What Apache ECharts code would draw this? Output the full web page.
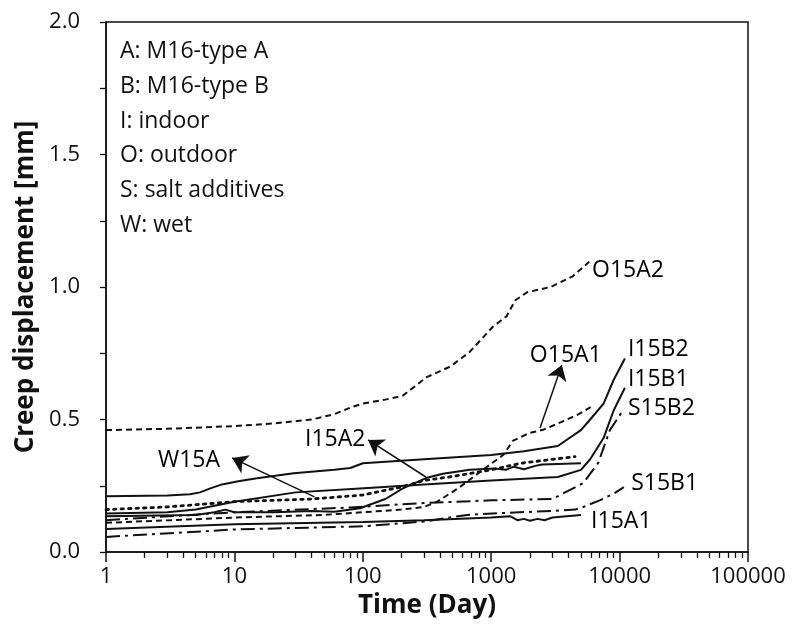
<!DOCTYPE html>
<html><head><meta charset="utf-8">
<script src="https://cdn.jsdelivr.net/npm/echarts@6/dist/echarts.min.js"></script>
<style>html,body{margin:0;padding:0;background:#fff}#c{width:796px;height:628px}</style>
</head><body><div id="c"></div>
<script>
// ---- data (time in days, creep displacement in mm) ----
const O15A2_t = [1, 3, 10, 20, 40, 60, 80, 100, 150, 205, 315, 480, 680, 1030, 1320, 1540, 1900, 2900, 4300, 5800];
const O15A2_y = [0.46, 0.465, 0.475, 0.485, 0.50, 0.52, 0.545, 0.56, 0.575, 0.59, 0.66, 0.70, 0.755, 0.85, 0.89, 0.95, 0.98, 1.0, 1.04, 1.095];

const O15A1_t = [1, 10, 50, 100, 200, 300, 380, 570, 860, 1240, 1480, 2000, 2500, 3500, 4800, 6100];
const O15A1_y = [0.11, 0.13, 0.14, 0.15, 0.16, 0.17, 0.19, 0.245, 0.31, 0.366, 0.42, 0.45, 0.46, 0.49, 0.52, 0.55];

const I15B2_t = [1, 3, 4.5, 5.4, 6.5, 8, 11, 15, 29, 60, 80, 100, 300, 1000, 1800, 3300, 5000, 5900, 7500, 9000, 11000];
const I15B2_y = [0.21, 0.213, 0.218, 0.225, 0.24, 0.255, 0.268, 0.278, 0.297, 0.31, 0.317, 0.335, 0.35, 0.366, 0.38, 0.40, 0.46, 0.50, 0.56, 0.65, 0.73];

const I15B1_t = [1, 3, 5, 10, 30, 95, 300, 1000, 3300, 5000, 5900, 7500, 9000, 11000];
const I15B1_y = [0.145, 0.15, 0.16, 0.19, 0.225, 0.24, 0.255, 0.27, 0.283, 0.31, 0.35, 0.43, 0.535, 0.62];

const I15A2_t = [1, 5, 7, 8.5, 10, 20, 40, 60, 95, 150, 205, 315, 420, 680, 1070, 1300, 1500, 1800, 2200, 2500, 5000];
const I15A2_y = [0.135, 0.14, 0.15, 0.16, 0.15, 0.15, 0.155, 0.152, 0.165, 0.2, 0.24, 0.28, 0.295, 0.31, 0.315, 0.31, 0.322, 0.312, 0.325, 0.33, 0.335];

const W15A_t = [1, 3, 10, 40, 100, 200, 300, 500, 1000, 1700, 4500];
const W15A_y = [0.16, 0.17, 0.19, 0.2, 0.215, 0.245, 0.27, 0.285, 0.31, 0.335, 0.36];

const S15B2_t = [1, 10, 80, 300, 1000, 3000, 5200, 6800, 8400, 10800];
const S15B2_y = [0.12, 0.15, 0.168, 0.185, 0.195, 0.2, 0.26, 0.335, 0.46, 0.54];

const S15B1_t = [1, 10, 100, 300, 650, 1200, 3000, 4500, 5200, 7000, 9000, 10800];
const S15B1_y = [0.057, 0.085, 0.097, 0.115, 0.14, 0.147, 0.155, 0.16, 0.17, 0.195, 0.22, 0.245];

const I15A1_t = [1, 10, 100, 300, 1000, 1400, 1600, 1800, 2000, 2300, 2600, 3000, 5000];
const I15A1_y = [0.087, 0.105, 0.113, 0.12, 0.13, 0.135, 0.12, 0.125, 0.118, 0.125, 0.12, 0.13, 0.14];

// curve labels: [text, time, displacement] (left-middle anchor)
const labelNames = ['O15A2', 'O15A1', 'I15B2', 'I15B1', 'S15B2', 'S15B1', 'I15A1', 'I15A2', 'W15A'];
const labelT = [6100, 2000, 11600, 11600, 11600, 12300, 6000, 35.5, 2.54];
const labelY = [1.064, 0.743, 0.766, 0.653, 0.543, 0.26, 0.117, 0.423, 0.347];

// arrows: from [t, y] to [t, y]
const arrowFrom = [[2400, 0.468], [310, 0.283], [42, 0.208]];
const arrowTo = [[3550, 0.706], [110, 0.423], [9.6, 0.355]];

const legendLines = ['A: M16-type A', 'B: M16-type B', 'I: indoor', 'O: outdoor', 'S: salt additives', 'W: wet'];

const yTicks = [0, 0.5, 1.0, 1.5, 2.0];
const minorX = [];
[1, 10, 100, 1000, 10000].forEach(d => { for (let k = 2; k <= 9; k++) minorX.push(d * k); });

// ---- build ----
const FONT = 'Open Sans';
function pairs(t, y) { return t.map((v, i) => [v, y[i]]); }
const styles = {
  dashed: [6, 4],
  dashdot: [14, 5, 3, 5],
  dotted: [2.5, 5]
};
function lineSeries(name, t, y, dash, width, cap) {
  return {
    name: name, type: 'line', data: pairs(t, y), showSymbol: false, smooth: false,
    lineStyle: { color: '#111', width: width || 2, type: dash || 'solid', cap: cap || 'butt' },
    z: 3, silent: true
  };
}

const chart = echarts.init(document.getElementById('c'), null, { renderer: 'canvas' });
const option = {
  backgroundColor: '#fff',
  animation: false,
  grid: { left: 106, right: 48, top: 22, bottom: 76, show: true, borderColor: '#111', borderWidth: 1.5, backgroundColor: 'transparent' },
  xAxis: [{
    type: 'log', logBase: 10, min: 1, max: 100000,
    name: 'Time (Day)', nameLocation: 'middle', nameGap: 34,
    nameTextStyle: { fontFamily: FONT, fontSize: 26, fontWeight: 'bold', color: '#111' },
    axisLine: { lineStyle: { color: '#111', width: 1.5 } },
    axisTick: { show: true, inside: false, length: 10, lineStyle: { color: '#111', width: 1.5 } },
    axisLabel: { fontFamily: FONT, fontSize: 22, color: '#111', margin: 14, formatter: v => String(Math.round(v)) },
    splitLine: { show: false }
  }, {
    type: 'log', logBase: 10, min: 1, max: 100000, position: 'bottom', gridIndex: 0,
    axisLine: { show: false },
    axisTick: { show: true, inside: false, length: 6, customValues: minorX, lineStyle: { color: '#111', width: 1.3 } },
    axisLabel: { show: false },
    splitLine: { show: false }
  }],
  yAxis: {
    type: 'value', min: 0, max: 2, interval: 0.25,
    name: 'Creep displacement [mm]', nameLocation: 'middle', nameGap: 60,
    nameTextStyle: { fontFamily: FONT, fontSize: 26, fontWeight: 'bold', color: '#111' },
    axisLine: { show: true, lineStyle: { color: '#111', width: 1.5 } },
    axisTick: { show: true, inside: false, length: 6, lineStyle: { color: '#111', width: 1.3 } },
    axisLabel: {
      fontFamily: FONT, fontSize: 22, color: '#111', margin: 26,
      formatter: v => (yTicks.some(t => Math.abs(t - v) < 1e-6) ? v.toFixed(1) : '')
    },
    splitLine: { show: false }
  },
  series: [
    lineSeries('O15A2', O15A2_t, O15A2_y, styles.dashed, 2),
    lineSeries('O15A1', O15A1_t, O15A1_y, styles.dashed, 2),
    lineSeries('I15B2', I15B2_t, I15B2_y, 'solid', 2),
    lineSeries('I15B1', I15B1_t, I15B1_y, 'solid', 2),
    lineSeries('I15A2', I15A2_t, I15A2_y, 'solid', 2),
    lineSeries('W15A', W15A_t, W15A_y, styles.dotted, 2.8, 'round'),
    lineSeries('S15B2', S15B2_t, S15B2_y, styles.dashdot, 2),
    lineSeries('S15B1', S15B1_t, S15B1_y, styles.dashdot, 2),
    lineSeries('I15A1', I15A1_t, I15A1_y, 'solid', 2),
    {
      type: 'lines', coordinateSystem: 'cartesian2d', silent: true, z: 4,
      symbol: ['none', 'arrow'], symbolSize: [0, 15],
      lineStyle: { color: '#111', width: 1.5, opacity: 1 },
      data: arrowFrom.map((f, i) => ({ coords: [f, arrowTo[i]] }))
    },
    {
      type: 'scatter', symbolSize: 0, silent: true, z: 5,
      itemStyle: { opacity: 1 },
      data: labelNames.map((n, i) => ({ name: n, value: [labelT[i], labelY[i]] })),
      label: { show: true, position: 'right', distance: 0, formatter: p => p.name, fontFamily: FONT, fontSize: 23, color: '#000', opacity: 1 }
    }
  ],
  graphic: legendLines.map((s, i) => ({
    type: 'text', left: 120, top: 40 + i * 34.8,
    style: { text: s, fontFamily: FONT, fontSize: 23, fill: '#111' }
  }))
};
chart.setOption(option);
</script></body></html>
